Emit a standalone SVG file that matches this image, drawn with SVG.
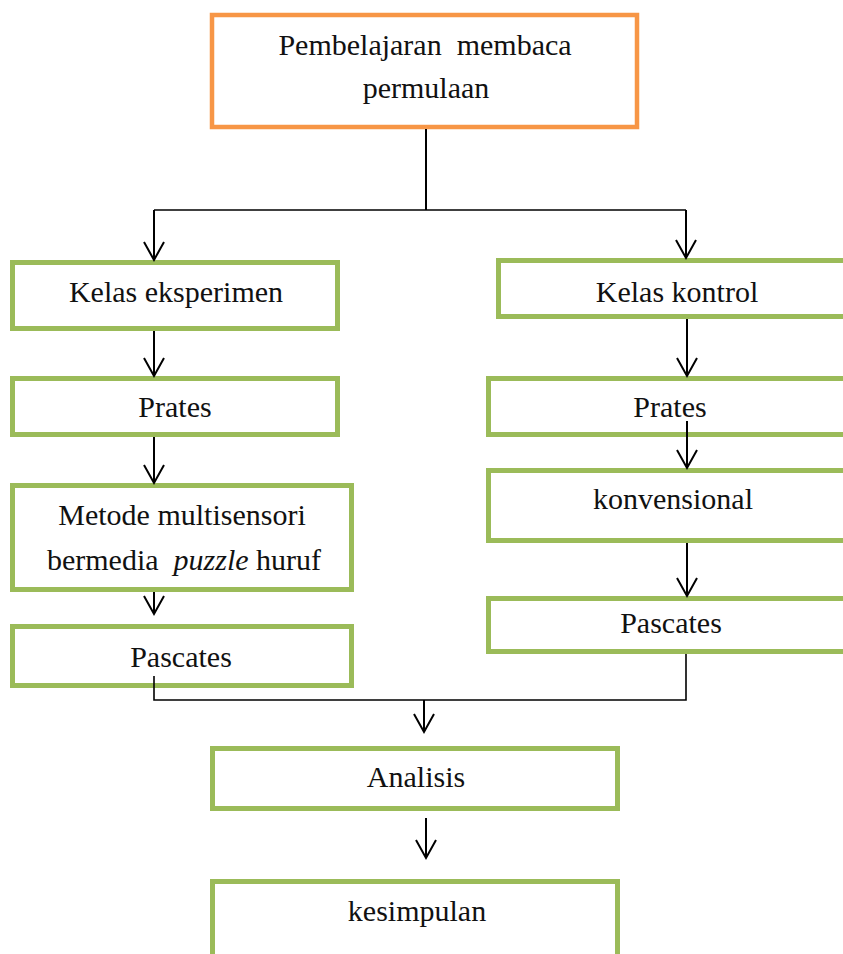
<svg xmlns="http://www.w3.org/2000/svg" width="843" height="954" viewBox="0 0 843 954">
<style>
  .g { fill: #ffffff; stroke: #9BBB59; stroke-width: 5; }
  .o { fill: #ffffff; stroke: #F79646; stroke-width: 4.5; }
  .t { font-family: "Liberation Serif", "Times New Roman", serif; font-size: 30px; fill: #111; text-anchor: middle; }
  .c { fill: none; stroke: #000; stroke-width: 2; }
  .h { fill: none; stroke: #000; stroke-width: 1.6; }
</style>
<defs>
  <marker id="arr" markerUnits="userSpaceOnUse" markerWidth="24" markerHeight="24" viewBox="-20 -12 24 24" refX="0" refY="0" orient="auto">
    <path d="M-18,-10 L0,0 L-18,10" fill="none" stroke="#000" stroke-width="2"/>
  </marker>
</defs>
<g id="n-top">
  <rect class="o" x="212" y="15" width="425" height="112"/>
  <text class="t" x="425" y="55" xml:space="preserve">Pembelajaran  membaca</text>
  <text class="t" x="426" y="98">permulaan</text>
</g>
<g id="n-kelas-eksperimen">
  <rect class="g" x="12.5" y="262.5" width="325" height="66"/>
  <text class="t" x="176" y="302">Kelas eksperimen</text>
</g>
<g id="n-prates-left">
  <rect class="g" x="12.5" y="378.5" width="325" height="56"/>
  <text class="t" x="175" y="417">Prates</text>
</g>
<g id="n-metode">
  <rect class="g" x="12.5" y="485.5" width="339" height="104"/>
  <text class="t" x="182" y="525">Metode multisensori</text>
  <text class="t" x="184" y="570" xml:space="preserve">bermedia  <tspan font-style="italic">puzzle</tspan> huruf</text>
</g>
<g id="n-pascates-left">
  <rect class="g" x="12.5" y="626.5" width="339" height="59"/>
  <text class="t" x="181" y="667">Pascates</text>
</g>
<g id="n-kelas-kontrol">
  <rect class="g" x="498.5" y="260.5" width="400" height="56"/>
  <text class="t" x="677" y="302">Kelas kontrol</text>
</g>
<g id="n-prates-right">
  <rect class="g" x="488.5" y="378.5" width="400" height="56"/>
  <text class="t" x="670" y="417">Prates</text>
</g>
<g id="n-konvensional">
  <rect class="g" x="488.5" y="470.5" width="400" height="70"/>
  <text class="t" x="673" y="509">konvensional</text>
</g>
<g id="n-pascates-right">
  <rect class="g" x="488.5" y="598.5" width="400" height="53"/>
  <text class="t" x="671" y="633">Pascates</text>
</g>
<g id="n-analisis">
  <rect class="g" x="212.5" y="748.5" width="405" height="60"/>
  <text class="t" x="416" y="787">Analisis</text>
</g>
<g id="n-kesimpulan">
  <rect class="g" x="212.5" y="881.5" width="405" height="100"/>
  <text class="t" x="417" y="921">kesimpulan</text>
</g>
<g id="connectors">
  <path class="c" d="M426,129 V210"/>
  <path class="h" d="M154,210 H686"/>
  <path class="c" d="M154,210 V260" marker-end="url(#arr)"/>
  <path class="c" d="M686,210 V258" marker-end="url(#arr)"/>
  <path class="c" d="M154,331 V376" marker-end="url(#arr)"/>
  <path class="c" d="M154,437 V483" marker-end="url(#arr)"/>
  <path class="c" d="M154,592 V614" marker-end="url(#arr)"/>
  <path class="c" d="M687,319 V376" marker-end="url(#arr)"/>
  <path class="c" d="M687,421 V468" marker-end="url(#arr)"/>
  <path class="c" d="M687,543 V596" marker-end="url(#arr)"/>
  <path class="h" d="M154,676 V700 H686 V654"/>
  <path class="c" d="M424,700 V732" marker-end="url(#arr)"/>
  <path class="c" d="M426,818 V858" marker-end="url(#arr)"/>
</g>
</svg>
